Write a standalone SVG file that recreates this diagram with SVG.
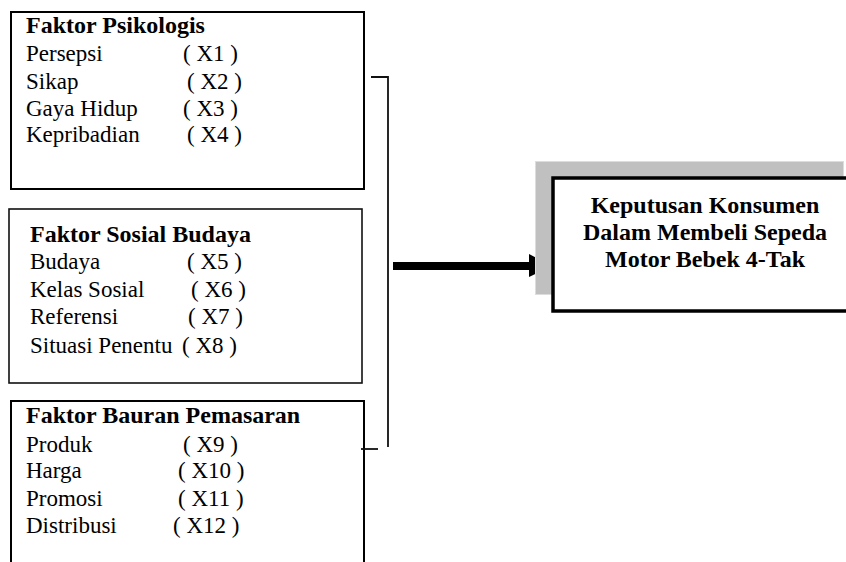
<svg xmlns="http://www.w3.org/2000/svg" width="846" height="562" viewBox="0 0 846 562">
<style>
.t{font-family:'Liberation Serif','Times New Roman',Tinos,'DejaVu Serif',serif;font-size:23px;fill:#000}
.b{font-weight:bold;font-size:24px}
.box{fill:#fff;stroke:#000;stroke-width:2}
.ln{fill:none;stroke:#111;stroke-width:1.8}
</style>
<rect width="846" height="562" fill="#fff"/>
<g id="psikologis">
<rect class="box" x="11" y="12" width="353" height="177"/>
<text class="t b" x="26" y="33">Faktor Psikologis</text>
<text class="t" x="26" y="61">Persepsi</text><text class="t" x="183" y="61">( X1 )</text>
<text class="t" x="26" y="89">Sikap</text><text class="t" x="187" y="89">( X2 )</text>
<text class="t" x="26" y="116">Gaya Hidup</text><text class="t" x="183" y="116">( X3 )</text>
<text class="t" x="26" y="142">Kepribadian</text><text class="t" x="187" y="142">( X4 )</text>
</g>
<g id="sosial-budaya">
<rect class="box" x="9" y="209" width="353" height="174" style="stroke-width:1.6;stroke:#111"/>
<text class="t b" x="30" y="242">Faktor Sosial Budaya</text>
<text class="t" x="30" y="269">Budaya</text><text class="t" x="187" y="269">( X5 )</text>
<text class="t" x="30" y="297">Kelas Sosial</text><text class="t" x="191" y="297">( X6 )</text>
<text class="t" x="30" y="324">Referensi</text><text class="t" x="188" y="324">( X7 )</text>
<text class="t" x="30" y="353">Situasi Penentu</text><text class="t" x="182" y="353">( X8 )</text>
</g>
<g id="bauran-pemasaran">
<rect class="box" x="11" y="401" width="353" height="200"/>
<text class="t b" x="26" y="423">Faktor Bauran Pemasaran</text>
<text class="t" x="26" y="452">Produk</text><text class="t" x="183" y="452">( X9 )</text>
<text class="t" x="26" y="478">Harga</text><text class="t" x="178" y="478">( X10 )</text>
<text class="t" x="26" y="506">Promosi</text><text class="t" x="178" y="506">( X11 )</text>
<text class="t" x="26" y="533">Distribusi</text><text class="t" x="173" y="533">( X12 )</text>
</g>
<g id="connectors">
<path class="ln" d="M371,77 H388 V447"/>
<path class="ln" d="M361,449 H378"/>
<line x1="393" y1="266" x2="531" y2="266" stroke="#000" stroke-width="8"/>
<polygon points="529,254 552,266 529,277" fill="#000"/>
</g>
<g id="keputusan">
<rect x="535.5" y="161.5" width="308" height="133" fill="#c0c0c0" stroke="#ddd" stroke-width="1"/>
<rect x="553" y="178" width="300" height="133" fill="#fff" stroke="#000" stroke-width="3.5"/>
<text class="t b" x="705" y="213" text-anchor="middle">Keputusan Konsumen</text>
<text class="t b" x="705" y="240" text-anchor="middle">Dalam Membeli Sepeda</text>
<text class="t b" x="705" y="267" text-anchor="middle">Motor Bebek 4-Tak</text>
</g>
</svg>
